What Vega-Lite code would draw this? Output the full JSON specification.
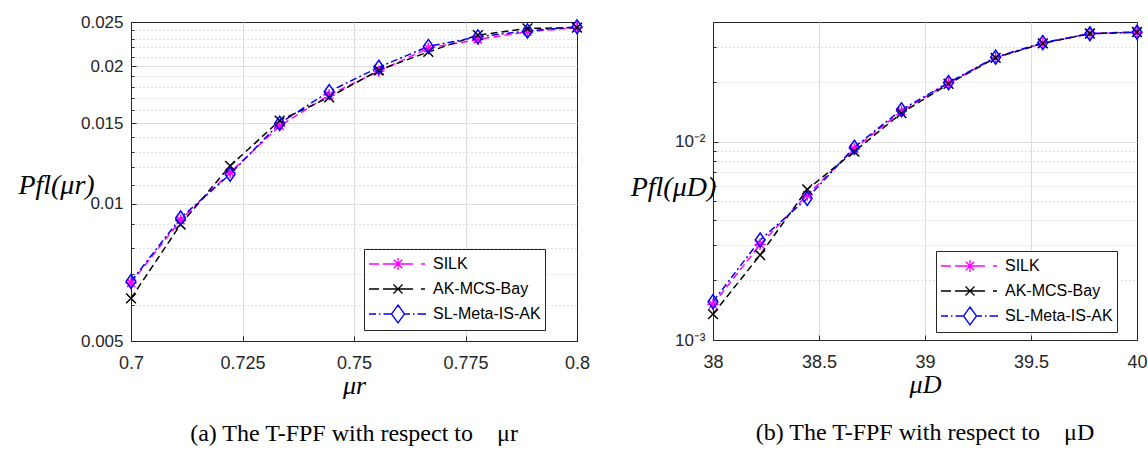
{
  "$schema": "https://vega.github.io/schema/vega-lite/v6.json",
  "background": "white",
  "padding": {"left": 17, "top": 12, "right": 0, "bottom": 0},
  "spacing": 136,
  "bounds": "flush",
  "datasets": {
    "a": [
      {"mu": 0.7, "pf": 0.0067, "method": "SILK"},
      {"mu": 0.71111, "pf": 0.0092, "method": "SILK"},
      {"mu": 0.72222, "pf": 0.0117, "method": "SILK"},
      {"mu": 0.73333, "pf": 0.0148, "method": "SILK"},
      {"mu": 0.74444, "pf": 0.0173, "method": "SILK"},
      {"mu": 0.75556, "pf": 0.0195, "method": "SILK"},
      {"mu": 0.76667, "pf": 0.0219, "method": "SILK"},
      {"mu": 0.77778, "pf": 0.0229, "method": "SILK"},
      {"mu": 0.78889, "pf": 0.0238, "method": "SILK"},
      {"mu": 0.8, "pf": 0.0243, "method": "SILK"},
      {"mu": 0.7, "pf": 0.0062, "method": "AK-MCS-Bay"},
      {"mu": 0.71111, "pf": 0.0090, "method": "AK-MCS-Bay"},
      {"mu": 0.72222, "pf": 0.0121, "method": "AK-MCS-Bay"},
      {"mu": 0.73333, "pf": 0.0152, "method": "AK-MCS-Bay"},
      {"mu": 0.74444, "pf": 0.0171, "method": "AK-MCS-Bay"},
      {"mu": 0.75556, "pf": 0.0196, "method": "AK-MCS-Bay"},
      {"mu": 0.76667, "pf": 0.0215, "method": "AK-MCS-Bay"},
      {"mu": 0.77778, "pf": 0.0234, "method": "AK-MCS-Bay"},
      {"mu": 0.78889, "pf": 0.0242, "method": "AK-MCS-Bay"},
      {"mu": 0.8, "pf": 0.0243, "method": "AK-MCS-Bay"},
      {"mu": 0.7, "pf": 0.00675, "method": "SL-Meta-IS-AK"},
      {"mu": 0.71111, "pf": 0.0093, "method": "SL-Meta-IS-AK"},
      {"mu": 0.72222, "pf": 0.0116, "method": "SL-Meta-IS-AK"},
      {"mu": 0.73333, "pf": 0.0150, "method": "SL-Meta-IS-AK"},
      {"mu": 0.74444, "pf": 0.0176, "method": "SL-Meta-IS-AK"},
      {"mu": 0.75556, "pf": 0.0199, "method": "SL-Meta-IS-AK"},
      {"mu": 0.76667, "pf": 0.0221, "method": "SL-Meta-IS-AK"},
      {"mu": 0.77778, "pf": 0.0232, "method": "SL-Meta-IS-AK"},
      {"mu": 0.78889, "pf": 0.0239, "method": "SL-Meta-IS-AK"},
      {"mu": 0.8, "pf": 0.0244, "method": "SL-Meta-IS-AK"}
    ],
    "b": [
      {"mu": 38, "pf": 0.00151, "method": "SILK"},
      {"mu": 38.2222, "pf": 0.00303, "method": "SILK"},
      {"mu": 38.4444, "pf": 0.00538, "method": "SILK"},
      {"mu": 38.6667, "pf": 0.00919, "method": "SILK"},
      {"mu": 38.8889, "pf": 0.0142, "method": "SILK"},
      {"mu": 39.1111, "pf": 0.0197, "method": "SILK"},
      {"mu": 39.3333, "pf": 0.0265, "method": "SILK"},
      {"mu": 39.5556, "pf": 0.0313, "method": "SILK"},
      {"mu": 39.7778, "pf": 0.0350, "method": "SILK"},
      {"mu": 40, "pf": 0.0355, "method": "SILK"},
      {"mu": 38, "pf": 0.00135, "method": "AK-MCS-Bay"},
      {"mu": 38.2222, "pf": 0.00268, "method": "AK-MCS-Bay"},
      {"mu": 38.4444, "pf": 0.00574, "method": "AK-MCS-Bay"},
      {"mu": 38.6667, "pf": 0.0089, "method": "AK-MCS-Bay"},
      {"mu": 38.8889, "pf": 0.0139, "method": "AK-MCS-Bay"},
      {"mu": 39.1111, "pf": 0.0195, "method": "AK-MCS-Bay"},
      {"mu": 39.3333, "pf": 0.0264, "method": "AK-MCS-Bay"},
      {"mu": 39.5556, "pf": 0.0312, "method": "AK-MCS-Bay"},
      {"mu": 39.7778, "pf": 0.0350, "method": "AK-MCS-Bay"},
      {"mu": 40, "pf": 0.0356, "method": "AK-MCS-Bay"},
      {"mu": 38, "pf": 0.00156, "method": "SL-Meta-IS-AK"},
      {"mu": 38.2222, "pf": 0.00319, "method": "SL-Meta-IS-AK"},
      {"mu": 38.4444, "pf": 0.00517, "method": "SL-Meta-IS-AK"},
      {"mu": 38.6667, "pf": 0.00936, "method": "SL-Meta-IS-AK"},
      {"mu": 38.8889, "pf": 0.01445, "method": "SL-Meta-IS-AK"},
      {"mu": 39.1111, "pf": 0.0198, "method": "SL-Meta-IS-AK"},
      {"mu": 39.3333, "pf": 0.0266, "method": "SL-Meta-IS-AK"},
      {"mu": 39.5556, "pf": 0.0315, "method": "SL-Meta-IS-AK"},
      {"mu": 39.7778, "pf": 0.0349, "method": "SL-Meta-IS-AK"},
      {"mu": 40, "pf": 0.0355, "method": "SL-Meta-IS-AK"}
    ]
  },
  "resolve": {"scale": {"x": "independent", "y": "independent", "color": "independent", "shape": "independent"}, "legend": {"color": "independent", "shape": "independent"}},
  "hconcat": [
    {
      "width": 446,
      "height": 319,
      "data": {"name": "a"},
      "title": {"text": "(a) The T-FPF with respect to\u00a0\u00a0\u00a0\u00a0μr", "orient": "bottom", "anchor": "middle", "font": "Liberation Serif", "fontSize": 24, "fontWeight": "normal", "color": "#000000", "offset": 24},
      "encoding": {
        "x": {"field": "mu", "type": "quantitative", "scale": {"domain": [0.7, 0.8], "nice": false, "zero": false},
          "axis": {"values": [0.7, 0.725, 0.75, 0.775, 0.8], "labelExpr": "format(datum.value, '.4~g')", "title": "μr", "labelFontSize": 18, "labelPadding": 18, "tickSize": -5, "titleFont": "Liberation Serif", "titleFontStyle": "italic", "titleFontWeight": "normal", "titleFontSize": 26, "titlePadding": 0, "gridColor": "#dedede", "labelFlush": false,
            "gridOpacity": {"condition": {"test": "datum.value === 0.7 || datum.value === 0.8", "value": 0}, "value": 1}}},
        "y": {"field": "pf", "type": "quantitative", "scale": {"type": "log", "domain": [0.005, 0.025], "nice": false},
          "axis": {
            "values": [0.005, 0.006, 0.007, 0.008, 0.009, 0.01, 0.011, 0.012, 0.013, 0.014, 0.015, 0.016, 0.017, 0.018, 0.019, 0.02, 0.021, 0.022, 0.023, 0.024, 0.025],
            "labelExpr": "indexof([0.005, 0.01, 0.015, 0.02, 0.025], datum.value) >= 0 ? format(datum.value, '.4~g') : ''",
            "labelOverlap": false, "labelFlush": false, "labelFontSize": 17, "labelPadding": 13,
            "tickSize": {"condition": {"test": "indexof([0.005, 0.01, 0.015, 0.02, 0.025], datum.value) >= 0", "value": -5}, "value": -3},
            "gridDash": {"condition": {"test": "indexof([0.005, 0.01, 0.015, 0.02, 0.025], datum.value) >= 0", "value": []}, "value": [1, 3]},
            "gridColor": {"condition": {"test": "indexof([0.005, 0.01, 0.015, 0.02, 0.025], datum.value) >= 0", "value": "#dedede"}, "value": "#c4c4c4"},
            "gridOpacity": {"condition": {"test": "datum.value === 0.005 || datum.value === 0.025", "value": 0}, "value": 1},
            "title": "Pfl(μr)", "titleAngle": 0, "titleAlign": "center", "titleBaseline": "middle", "titleX": -75, "titleY": 163,
            "titleFont": "Liberation Serif", "titleFontStyle": "italic", "titleFontWeight": "normal", "titleFontSize": 28}}
      },
      "layer": [
        {"transform": [{"filter": "datum.method === 'SILK'"}], "mark": {"type": "line", "strokeWidth": 1.5, "color": "#ff00ff", "strokeDash": [7, 4]}},
        {"transform": [{"filter": "datum.method === 'AK-MCS-Bay'"}], "mark": {"type": "line", "strokeWidth": 1.5, "color": "#000000", "strokeDash": [7, 4]}},
        {"transform": [{"filter": "datum.method === 'SL-Meta-IS-AK'"}], "mark": {"type": "line", "strokeWidth": 1.5, "color": "#0000ff", "strokeDash": [7, 3, 2, 3]}},
        {"transform": [{"filter": "datum.method === 'SILK'"}], "mark": {"type": "point", "filled": false, "opacity": 1, "strokeWidth": 1.5, "size": 196, "color": "#ff00ff", "shape": "M-0.8,0L0.8,0M0,-0.8L0,0.8M-0.57,-0.57L0.57,0.57M-0.57,0.57L0.57,-0.57"}},
        {"transform": [{"filter": "datum.method === 'AK-MCS-Bay'"}], "mark": {"type": "point", "filled": false, "opacity": 1, "strokeWidth": 1.5, "size": 196, "color": "#000000", "shape": "M-0.7,-0.7L0.7,0.7M-0.7,0.7L0.7,-0.7"}},
        {"transform": [{"filter": "datum.method === 'SL-Meta-IS-AK'"}], "mark": {"type": "point", "filled": false, "opacity": 1, "strokeWidth": 1.5, "size": 196, "color": "#0000ff", "shape": "M0,-1L0.7,0L0,1L-0.7,0Z"}},
        {"transform": [{"filter": "false"}],
         "mark": {"type": "point", "filled": false, "opacity": 1, "strokeWidth": 1.3},
         "encoding": {
           "color": {"field": "method", "type": "nominal",
             "scale": {"domain": ["SILK", "AK-MCS-Bay", "SL-Meta-IS-AK"], "range": ["#ff00ff", "#000000", "#0000ff"]},
             "legend": {"title": null, "orient": "none", "legendX": 233, "legendY": 227, "symbolSize": 400, "labelOffset": 43, "labelFont": "Liberation Sans", "labelFontSize": 16, "labelColor": "#000000", "padding": 4, "rowPadding": 5, "strokeColor": "#262626", "fillColor": "white", "symbolStrokeWidth": 1.3, "symbolOpacity": 1}},
           "shape": {"field": "method", "type": "nominal",
             "scale": {"domain": ["SILK", "AK-MCS-Bay", "SL-Meta-IS-AK"], "range": [
               "M-1,0L0,0M0.4,0L3.4,0M4.2,0L4.6,0M1.9,-0.6L1.9,0.6M1.48,-0.42L2.32,0.42M1.48,0.42L2.32,-0.42",
               "M-1,0L0,0M0.4,0L3.4,0M4.2,0L4.6,0M1.45,-0.45L2.35,0.45M1.45,0.45L2.35,-0.45",
               "M-1,0L-0.3,0M0,0L0.15,0M0.45,0L1.25,0M1.9,-0.9L2.55,0L1.9,0.9L1.25,0ZM2.55,0L3.1,0M3.4,0L3.55,0M3.85,0L4.7,0"]},
             "legend": {"title": null, "orient": "none", "legendX": 233, "legendY": 227, "symbolSize": 400, "labelOffset": 43, "labelFont": "Liberation Sans", "labelFontSize": 16, "labelColor": "#000000", "padding": 4, "rowPadding": 5, "strokeColor": "#262626", "fillColor": "white", "symbolStrokeWidth": 1.3, "symbolOpacity": 1}}
         }}
      ]
    },
    {
      "width": 424,
      "height": 318,
      "data": {"name": "b"},
      "title": {"text": "(b) The T-FPF with respect to\u00a0\u00a0\u00a0\u00a0μD", "orient": "bottom", "anchor": "middle", "font": "Liberation Serif", "fontSize": 24, "fontWeight": "normal", "color": "#000000", "offset": 24},
      "encoding": {
        "x": {"field": "mu", "type": "quantitative", "scale": {"domain": [38, 40], "nice": false, "zero": false},
          "axis": {"values": [38, 38.5, 39, 39.5, 40], "labelExpr": "format(datum.value, '.4~g')", "title": "μD", "labelFontSize": 18, "labelPadding": 18, "tickSize": -5, "titleFont": "Liberation Serif", "titleFontStyle": "italic", "titleFontWeight": "normal", "titleFontSize": 26, "titlePadding": 0, "gridColor": "#dedede", "labelFlush": false,
            "gridOpacity": {"condition": {"test": "datum.value === 38 || datum.value === 40", "value": 0}, "value": 1}}},
        "y": {"field": "pf", "type": "quantitative", "scale": {"type": "log", "domain": [0.001, 0.04], "nice": false},
          "axis": {
            "values": [0.001, 0.002, 0.003, 0.004, 0.005, 0.006, 0.007, 0.008, 0.009, 0.01, 0.02, 0.03],
            "labelExpr": "datum.value === 0.01 ? '10⁻²' : datum.value === 0.001 ? '10⁻³' : ''",
            "labelOverlap": false, "labelFlush": false, "labelFontSize": 17, "labelPadding": 13,
            "tickSize": {"condition": {"test": "datum.value === 0.01 || datum.value === 0.001", "value": -5}, "value": -3},
            "gridDash": {"condition": {"test": "datum.value === 0.01 || datum.value === 0.001", "value": []}, "value": [1, 3]},
            "gridColor": {"condition": {"test": "datum.value === 0.01 || datum.value === 0.001", "value": "#dedede"}, "value": "#c4c4c4"},
            "gridOpacity": {"condition": {"test": "datum.value === 0.001", "value": 0}, "value": 1},
            "title": "Pfl(μD)", "titleAngle": 0, "titleAlign": "center", "titleBaseline": "middle", "titleX": -40, "titleY": 165,
            "titleFont": "Liberation Serif", "titleFontStyle": "italic", "titleFontWeight": "normal", "titleFontSize": 28}}
      },
      "layer": [
        {"transform": [{"filter": "datum.method === 'SILK'"}], "mark": {"type": "line", "strokeWidth": 1.5, "color": "#ff00ff", "strokeDash": [7, 4]}},
        {"transform": [{"filter": "datum.method === 'AK-MCS-Bay'"}], "mark": {"type": "line", "strokeWidth": 1.5, "color": "#000000", "strokeDash": [7, 4]}},
        {"transform": [{"filter": "datum.method === 'SL-Meta-IS-AK'"}], "mark": {"type": "line", "strokeWidth": 1.5, "color": "#0000ff", "strokeDash": [7, 3, 2, 3]}},
        {"transform": [{"filter": "datum.method === 'SILK'"}], "mark": {"type": "point", "filled": false, "opacity": 1, "strokeWidth": 1.5, "size": 196, "color": "#ff00ff", "shape": "M-0.8,0L0.8,0M0,-0.8L0,0.8M-0.57,-0.57L0.57,0.57M-0.57,0.57L0.57,-0.57"}},
        {"transform": [{"filter": "datum.method === 'AK-MCS-Bay'"}], "mark": {"type": "point", "filled": false, "opacity": 1, "strokeWidth": 1.5, "size": 196, "color": "#000000", "shape": "M-0.7,-0.7L0.7,0.7M-0.7,0.7L0.7,-0.7"}},
        {"transform": [{"filter": "datum.method === 'SL-Meta-IS-AK'"}], "mark": {"type": "point", "filled": false, "opacity": 1, "strokeWidth": 1.5, "size": 196, "color": "#0000ff", "shape": "M0,-1L0.7,0L0,1L-0.7,0Z"}},
        {"transform": [{"filter": "false"}],
         "mark": {"type": "point", "filled": false, "opacity": 1, "strokeWidth": 1.3},
         "encoding": {
           "color": {"field": "method", "type": "nominal",
             "scale": {"domain": ["SILK", "AK-MCS-Bay", "SL-Meta-IS-AK"], "range": ["#ff00ff", "#000000", "#0000ff"]},
             "legend": {"title": null, "orient": "none", "legendX": 223, "legendY": 229, "symbolSize": 400, "labelOffset": 43, "labelFont": "Liberation Sans", "labelFontSize": 16, "labelColor": "#000000", "padding": 4, "rowPadding": 5, "strokeColor": "#262626", "fillColor": "white", "symbolStrokeWidth": 1.3, "symbolOpacity": 1}},
           "shape": {"field": "method", "type": "nominal",
             "scale": {"domain": ["SILK", "AK-MCS-Bay", "SL-Meta-IS-AK"], "range": [
               "M-1,0L0,0M0.4,0L3.4,0M4.2,0L4.6,0M1.9,-0.6L1.9,0.6M1.48,-0.42L2.32,0.42M1.48,0.42L2.32,-0.42",
               "M-1,0L0,0M0.4,0L3.4,0M4.2,0L4.6,0M1.45,-0.45L2.35,0.45M1.45,0.45L2.35,-0.45",
               "M-1,0L-0.3,0M0,0L0.15,0M0.45,0L1.25,0M1.9,-0.9L2.55,0L1.9,0.9L1.25,0ZM2.55,0L3.1,0M3.4,0L3.55,0M3.85,0L4.7,0"]},
             "legend": {"title": null, "orient": "none", "legendX": 223, "legendY": 229, "symbolSize": 400, "labelOffset": 43, "labelFont": "Liberation Sans", "labelFontSize": 16, "labelColor": "#000000", "padding": 4, "rowPadding": 5, "strokeColor": "#262626", "fillColor": "white", "symbolStrokeWidth": 1.3, "symbolOpacity": 1}}
         }}
      ]
    }
  ],
  "config": {
    "font": "Liberation Sans",
    "view": {"stroke": "#262626", "strokeWidth": 1},
    "axis": {"domain": true, "domainColor": "#262626", "labelColor": "#262626", "labelFont": "Liberation Sans", "titleColor": "#000000", "tickColor": "#262626", "grid": true, "gridWidth": 1}
  }
}
